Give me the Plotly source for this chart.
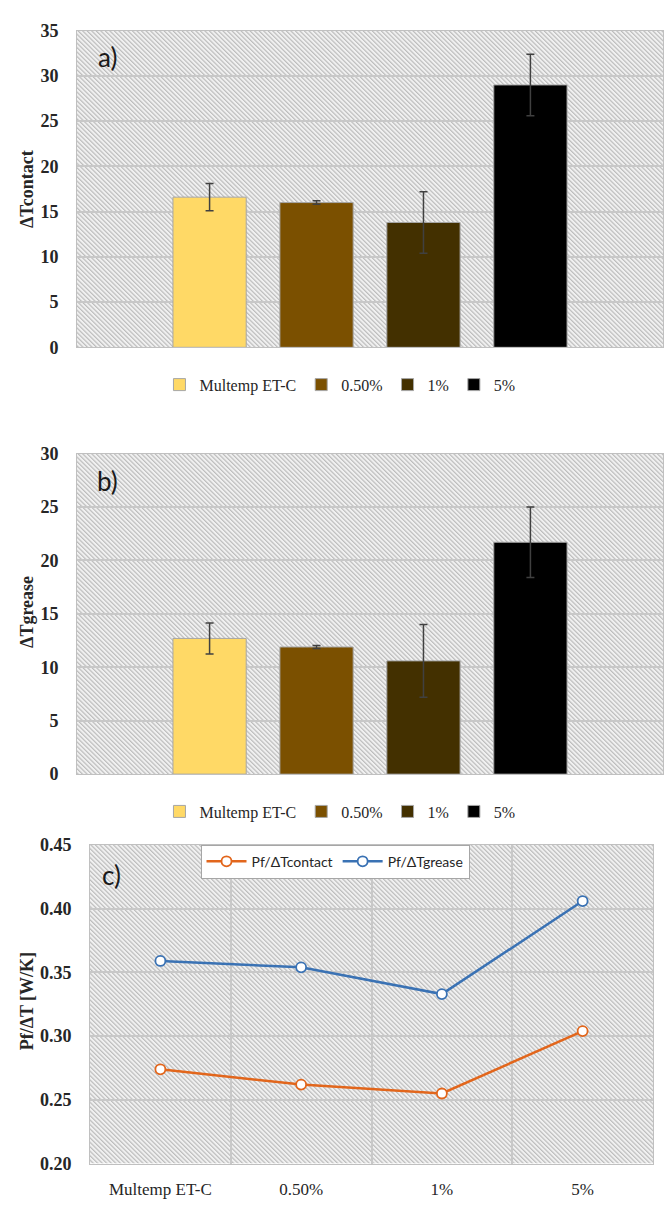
import base64
import plotly.graph_objects as go

# ---------------- data ----------------
categories = ["Multemp ET-C", "0.50%", "1%", "5%"]
dT_contact = [16.6, 16.0, 13.8, 29.0]
dT_contact_err = [1.5, 0.2, 3.4, 3.4]
dT_grease = [12.7, 11.9, 10.6, 21.7]
dT_grease_err = [1.45, 0.15, 3.4, 3.3]
pf_contact = [0.274, 0.262, 0.255, 0.304]
pf_grease = [0.359, 0.354, 0.333, 0.406]

ticks_a = [0, 5, 10, 15, 20, 25, 30, 35]
ticks_b = [0, 5, 10, 15, 20, 25, 30]
ticks_c = [0.20, 0.25, 0.30, 0.35, 0.40, 0.45]

bar_colors = ["#FFD966", "#7B5000", "#433000", "#000000"]
line_colors = ["#E2661C", "#3A72B4"]

W, H = 664, 1210

# plot-area pixel boxes (left, right, top, bottom)
box_a = (77, 663, 21, 343)
box_b = (77, 663, 451, 777)
box_c = (90, 653, 849, 1173)


def dom(box):
    l, r, t, b = box
    return [l / W, r / W], [1 - b / H, 1 - t / H]


def hatch_src(w, h):
    svg = (
        f"<svg xmlns='http://www.w3.org/2000/svg' width='{w}' height='{h}' "
        f"viewBox='0 0 {w} {h}' preserveAspectRatio='none'><defs>"
        "<pattern id='p' width='3.2' height='3.2' patternUnits='userSpaceOnUse' "
        "patternTransform='rotate(-45)'>"
        "<rect width='3.2' height='3.2' fill='#f1f1f1'/>"
        "<rect width='1.2' height='3.2' fill='#bcbcbc'/></pattern></defs>"
        f"<rect width='{w}' height='{h}' fill='url(#p)'/></svg>"
    )
    return "data:image/svg+xml;base64," + base64.b64encode(svg.encode()).decode()


fig = go.Figure()

serif = "Liberation Serif, Times New Roman, Times, serif"
sans = "Lato, Noto Sans, sans-serif"
txt = "#262626"

# panel a bars
for i, c in enumerate(categories):
    fig.add_trace(go.Bar(
        x=["ΔT"], y=[dT_contact[i]], name=c,
        marker=dict(color=bar_colors[i], line=dict(color="#a6a6a6", width=1)),
        error_y=dict(type="data", array=[dT_contact_err[i]], color="#404040",
                     thickness=1.5, width=4),
        xaxis="x", yaxis="y", legend="legend",
    ))

# panel b bars
for i, c in enumerate(categories):
    fig.add_trace(go.Bar(
        x=["ΔT"], y=[dT_grease[i]], name=c,
        marker=dict(color=bar_colors[i], line=dict(color="#a6a6a6", width=1)),
        error_y=dict(type="data", array=[dT_grease_err[i]], color="#404040",
                     thickness=1.5, width=4),
        xaxis="x2", yaxis="y2", legend="legend2",
    ))

# panel c lines
for vals, nm, col in [(pf_contact, "Pf/ΔTcontact", line_colors[0]),
                      (pf_grease, "Pf/ΔTgrease", line_colors[1])]:
    fig.add_trace(go.Scatter(
        x=categories, y=vals, name=nm, mode="lines+markers",
        line=dict(color=col, width=2.5),
        marker=dict(symbol="circle", size=10, color="white",
                    line=dict(color=col, width=1.8)),
        xaxis="x3", yaxis="y3", legend="legend3",
    ))

xa, ya = dom(box_a)
xb, yb = dom(box_b)
xc, yc = dom(box_c)

grid = "#c8c8c8"
border = "#c0c0c0"

common_y = dict(
    showgrid=True, gridcolor=grid, gridwidth=1.5, zeroline=False,
    showline=True, linecolor=border, linewidth=1, mirror=True,
    ticks="", ticklabelstandoff=14,
    tickfont=dict(family=serif, size=18, color=txt, weight="bold"),
)
common_x_bar = dict(
    showgrid=False, showticklabels=False, zeroline=False,
    showline=True, linecolor=border, linewidth=1, mirror=True, ticks="",
)

fig.update_layout(
    width=W, height=H,
    margin=dict(l=0, r=0, t=0, b=0),
    paper_bgcolor="white",
    plot_bgcolor="rgba(0,0,0,0)",
    font=dict(family=serif),
    barmode="group", bargap=0.27, bargroupgap=0.315,
    xaxis=dict(domain=xa, anchor="y", **common_x_bar),
    yaxis=dict(domain=ya, anchor="x", range=[0, 35], tickvals=ticks_a, **common_y),
    xaxis2=dict(domain=xb, anchor="y2", **common_x_bar),
    yaxis2=dict(domain=yb, anchor="x2", range=[0, 30], tickvals=ticks_b, **common_y),
    xaxis3=dict(domain=xc, anchor="y3", range=[-0.5, 3.5], showgrid=True,
                gridcolor=grid, gridwidth=1.5,
                tickson="boundaries", zeroline=False, ticks="",
                showline=True, linecolor=border, linewidth=1, mirror=True,
                ticklabelstandoff=10,
                tickfont=dict(family=serif, size=17, color=txt)),
    yaxis3=dict(domain=yc, anchor="x3", range=[0.20, 0.45], tickvals=ticks_c,
                tickformat=".2f", **common_y),
    legend=dict(orientation="h", x=0.512, xanchor="center", y=1 - 381 / H,
                yanchor="middle", font=dict(family=serif, size=16, color=txt),
                itemwidth=30, bgcolor="rgba(0,0,0,0)", traceorder="normal"),
    legend2=dict(orientation="h", x=0.512, xanchor="center", y=1 - 815 / H,
                 yanchor="middle", font=dict(family=serif, size=16, color=txt),
                 itemwidth=30, bgcolor="rgba(0,0,0,0)", traceorder="normal"),
    legend3=dict(orientation="h", x=335 / W, xanchor="center", y=1 - 866 / H,
                 yanchor="middle", font=dict(family=sans, size=14, color=txt),
                 itemwidth=40, bgcolor="white", bordercolor="#a6a6a6", borderwidth=1,
                 traceorder="normal"),
)

# hatched plot-area backgrounds
imgs = []
for box in (box_a, box_b, box_c):
    l, r, t, b = box
    xd, yd = dom(box)
    imgs.append(dict(
        source=hatch_src(r - l, b - t), xref="paper", yref="paper",
        x=xd[0], y=yd[1], sizex=xd[1] - xd[0], sizey=yd[1] - yd[0],
        xanchor="left", yanchor="top", sizing="stretch", layer="below",
    ))
fig.update_layout(images=imgs)

# axis titles and panel labels
annos = [
    dict(text="ΔTcontact", x=27 / W, y=1 - 182 / H, textangle=-90),
    dict(text="ΔTgrease", x=27 / W, y=1 - 612 / H, textangle=-90),
    dict(text="Pf/ΔT [W/K]", x=27 / W, y=1 - 1008 / H, textangle=-90),
]
for a in annos:
    fig.add_annotation(xref="paper", yref="paper", showarrow=False,
                       xanchor="center", yanchor="middle",
                       font=dict(family=serif, size=18, color=txt, weight="bold"), **a)

for lab, px, py in [("a)", 107, 48), ("b)", 107, 479), ("c)", 112, 880)]:
    fig.add_annotation(text=lab, xref="paper", yref="paper", x=px / W, y=1 - py / H,
                       showarrow=False, xanchor="center", yanchor="middle",
                       font=dict(family=sans, size=26, color="#1a1a1a"))

fig.write_html(
    "out.html",
    config={"displayModeBar": False},
    post_script="document.body.style.margin='0';document.body.style.overflow='hidden';",
)
